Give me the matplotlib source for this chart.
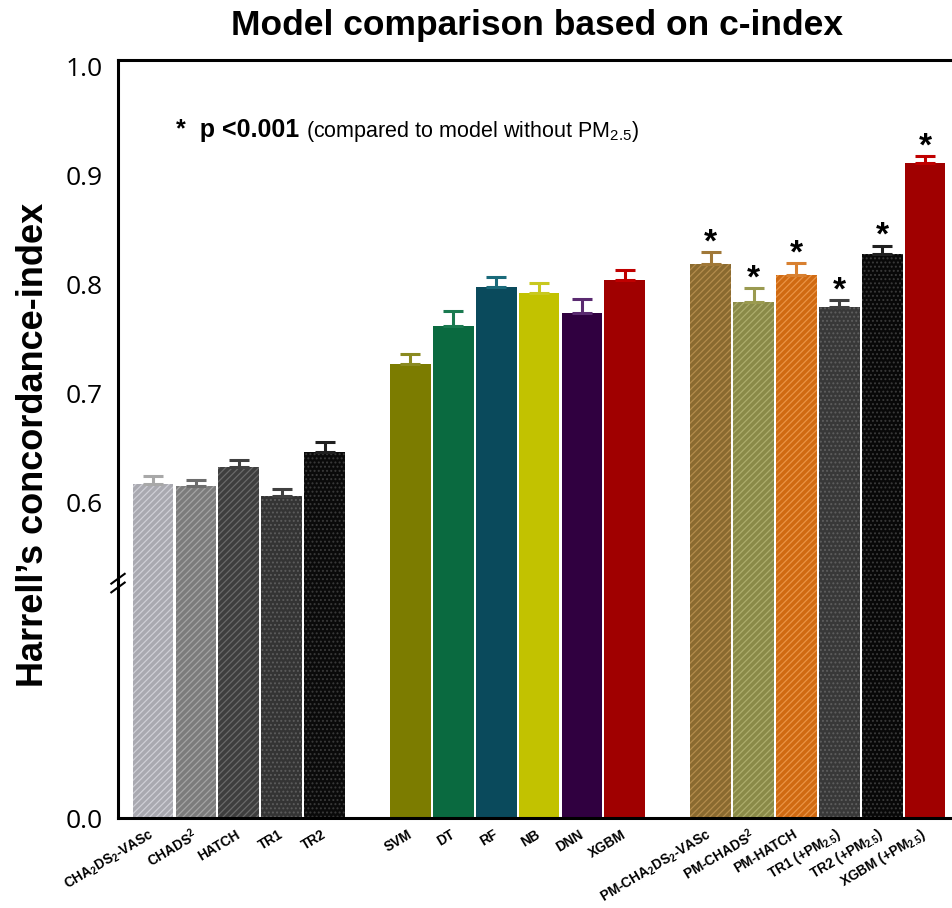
import numpy as np
import matplotlib
matplotlib.use('Agg')
import matplotlib.pyplot as plt

plt.rcParams['font.family'] = ['Liberation Sans', 'DejaVu Sans']
plt.rcParams['hatch.linewidth'] = 0.9

# data
models = ['CHA$\\mathregular{_2}$DS$\\mathregular{_2}$-VASc', 'CHADS$\\mathregular{^2}$', 'HATCH', 'TR1', 'TR2',
          'SVM', 'DT', 'RF', 'NB', 'DNN', 'XGBM',
          'PM-CHA$\\mathregular{_2}$DS$\\mathregular{_2}$-VASc', 'PM-CHADS$\\mathregular{^2}$', 'PM-HATCH',
          'TR1 (+PM$\\mathregular{_{2.5}}$)', 'TR2 (+PM$\\mathregular{_{2.5}}$)', 'XGBM (+PM$\\mathregular{_{2.5}}$)']
positions = [0, 1, 2, 3, 4, 6, 7, 8, 9, 10, 11, 13, 14, 15, 16, 17, 18]
cindex = [0.617, 0.616, 0.633, 0.606, 0.647,
          0.7275, 0.762, 0.7985, 0.793, 0.774, 0.805,
          0.819, 0.784, 0.809, 0.780, 0.828, 0.912]
upper_err = [0.008, 0.005, 0.006, 0.007, 0.009,
             0.009, 0.014, 0.009, 0.0085, 0.013, 0.009,
             0.011, 0.013, 0.011, 0.006, 0.008, 0.006]
significant = [False] * 11 + [True] * 6

bar_colors = ['#a9a9b0', '#7c7c7c', '#3e3e3e', '#343434', '#0a0a0a',
              '#7c7c00', '#0a6a40', '#0a4a5c', '#c2c200', '#300040', '#a00000',
              '#8a6a30', '#8a8a48', '#d06a12', '#383838', '#080808', '#a00000']
hatch_colors = ['#cfcfd6', '#a4a4a4', '#6a6a6a', '#5c5c5c', '#3a3a3a',
                None, None, None, None, None, None,
                '#b48c4c', '#adad6c', '#ea9446', '#5e5e5e', '#3a3a3a', None]
hatches = ['/////', '/////', '/////', '....', '....',
           None, None, None, None, None, None,
           '/////', '/////', '/////', '....', '....', None]
err_colors = ['#a8a8a8', '#6c6c6c', '#404040', '#404040', '#202020',
              '#8a8a20', '#1a7a50', '#1a6a7a', '#c8c820', '#5a2a70', '#c00000',
              '#a07838', '#9a9a50', '#d88030', '#404040', '#202020', '#c00000']

# broken axis: linear above 0.5, compressed below
B, K = 0.5, 0.378


def fwd(v):
    v = np.asarray(v, dtype=float)
    return np.where(v >= B, v, B - (B - v) * K)


def inv(u):
    u = np.asarray(u, dtype=float)
    return np.where(u >= B, u, B - (B - u) / K)


fig = plt.figure(figsize=(9.53, 9.08), dpi=100)
ax = fig.add_axes([118 / 953, 1 - 818 / 908, 1 - 118 / 953, 758 / 908])
ax.set_yscale('function', functions=(fwd, inv))
ax.set_ylim(0, 1.0064)
ax.set_xlim(-0.816, 18.65)

for i in range(len(models)):
    if hatches[i]:
        ax.bar(positions[i], cindex[i], width=0.95, color=bar_colors[i],
               edgecolor=hatch_colors[i], linewidth=0, hatch=hatches[i])
    else:
        ax.bar(positions[i], cindex[i], width=0.95, color=bar_colors[i], linewidth=0)
    ax.errorbar(positions[i], cindex[i], yerr=[[0], [upper_err[i]]], fmt='none',
                ecolor=err_colors[i], elinewidth=2.2, capsize=7.5, capthick=2.2)
    if significant[i]:
        ax.text(positions[i], cindex[i] + upper_err[i] + 0.001, '*', ha='center',
                va='baseline', fontsize=24, fontweight='bold')

for side in ['left', 'top', 'bottom']:
    ax.spines[side].set_linewidth(2.2)
ax.spines['right'].set_visible(False)

ax.set_yticks([0.0, 0.6, 0.7, 0.8, 0.9, 1.0])
ax.set_yticklabels(['0.0', '0.6', '0.7', '0.8', '0.9', '1.0'],
                   fontsize=19, family=['Open Sans', 'DejaVu Sans'])
ax.tick_params(axis='y', length=0, pad=11)
ax.set_xticks(positions)
ax.set_xticklabels(models, rotation=31, ha='right', va='center', rotation_mode='anchor',
                   fontsize=9.8, fontweight='bold')
ax.tick_params(axis='x', length=0, pad=11)

# break marks on the y axis
trans = ax.get_yaxis_transform()
for yb in [0.5225, 0.5305]:
    ax.plot([-0.008, 0.008], [yb - 0.0045, yb + 0.0045], color='black', lw=1.5,
            transform=trans, clip_on=False)

fig.text(537.5 / 953, 1 - 26 / 908, 'Model comparison based on c-index',
         ha='center', va='center', fontsize=25.5, fontweight='bold')
fig.text(34 / 953, 1 - 445 / 908, 'Harrell\u2019s concordance-index', rotation=90,
         ha='center', va='center', fontsize=26, fontweight='bold')
fig.text(176 / 953, 1 - 137 / 908, '*  p <0.001', fontsize=18, fontweight='bold', va='baseline')
fig.text(306 / 953, 1 - 137 / 908, '(compared to model without PM$\\mathregular{_{2.5}}$)',
         fontsize=15.5, va='baseline')

fig.savefig('out.png', dpi=100)
